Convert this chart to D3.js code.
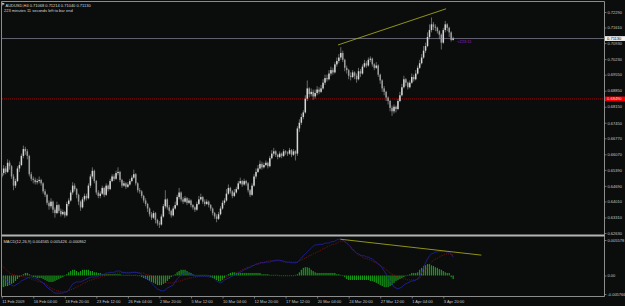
<!DOCTYPE html>
<html>
<head>
<meta charset="utf-8">
<script src="https://cdn.jsdelivr.net/npm/d3@7"></script>
<style>
  html, body { margin: 0; padding: 0; background: #0b0d0d; }
  svg { display: block; }
  text { font-family: "Liberation Sans", Arial, sans-serif; font-size: 4px; fill: #d8d8d8; }
</style>
</head>
<body>
<svg id="chart" width="625" height="306"></svg>
<script>
// AUDUSD H4 bars (bar 0 = 11 Feb 2009)
var firstOpen = 0.6510;
var closes = [
  0.6525,0.6545,0.6530,0.6570,0.6555,0.6510,0.6470,0.6490,0.6545,0.6560,
  0.6600,0.6630,0.6620,0.6600,0.6520,0.6500,0.6495,0.6485,0.6490,0.6495,
  0.6480,0.6445,0.6430,0.6395,0.6380,0.6400,0.6365,0.6350,0.6385,0.6360,
  0.6345,0.6355,0.6340,0.6390,0.6405,0.6440,0.6470,0.6455,0.6430,0.6400,
  0.6375,0.6410,0.6425,0.6415,0.6470,0.6510,0.6535,0.6490,0.6440,0.6425,
  0.6435,0.6460,0.6430,0.6470,0.6455,0.6490,0.6510,0.6500,0.6525,0.6530,
  0.6495,0.6470,0.6480,0.6465,0.6475,0.6490,0.6505,0.6520,0.6480,0.6450,
  0.6445,0.6425,0.6405,0.6390,0.6370,0.6345,0.6330,0.6350,0.6320,0.6305,
  0.6300,0.6335,0.6380,0.6410,0.6375,0.6360,0.6340,0.6370,0.6385,0.6420,
  0.6440,0.6410,0.6400,0.6415,0.6395,0.6405,0.6385,0.6375,0.6365,0.6390,
  0.6410,0.6420,0.6400,0.6390,0.6400,0.6385,0.6370,0.6350,0.6335,0.6325,
  0.6345,0.6370,0.6395,0.6405,0.6435,0.6460,0.6445,0.6425,0.6440,0.6455,
  0.6480,0.6490,0.6475,0.6490,0.6480,0.6450,0.6430,0.6470,0.6510,0.6530,
  0.6545,0.6565,0.6550,0.6560,0.6570,0.6555,0.6590,0.6610,0.6620,0.6605,
  0.6595,0.6610,0.6600,0.6620,0.6615,0.6610,0.6625,0.6605,0.6620,0.6610,
  0.6720,0.6745,0.6770,0.6790,0.6850,0.6895,0.6870,0.6880,0.6860,0.6875,
  0.6890,0.6880,0.6895,0.6920,0.6940,0.6935,0.6960,0.6975,0.6965,0.7000,
  0.7015,0.7030,0.7050,0.7020,0.6985,0.6975,0.6950,0.6945,0.6965,0.6950,
  0.6935,0.6970,0.6960,0.6990,0.7005,0.6995,0.7020,0.7025,0.7000,0.6985,
  0.6995,0.6955,0.6930,0.6895,0.6880,0.6855,0.6840,0.6810,0.6795,0.6815,
  0.6805,0.6840,0.6865,0.6900,0.6935,0.6920,0.6900,0.6920,0.6945,0.6935,
  0.6960,0.6985,0.7005,0.7030,0.7060,0.7080,0.7120,0.7150,0.7175,0.7165,
  0.7160,0.7145,0.7130,0.7095,0.7150,0.7175,0.7160,0.7140,0.7107,0.7113
];
var highs = [
  0.6545,0.6560,0.6555,0.6585,0.6580,0.6560,0.6520,0.6500,0.6555,0.6575,
  0.6610,0.6645,0.6640,0.6630,0.6605,0.6530,0.6510,0.6505,0.6500,0.6510,
  0.6500,0.6485,0.6455,0.6435,0.6405,0.6415,0.6405,0.6375,0.6400,0.6390,
  0.6370,0.6365,0.6360,0.6400,0.6415,0.6450,0.6485,0.6480,0.6460,0.6435,
  0.6405,0.6420,0.6435,0.6435,0.6480,0.6520,0.6550,0.6540,0.6495,0.6450,
  0.6445,0.6470,0.6465,0.6480,0.6475,0.6500,0.6520,0.6520,0.6535,0.6550,
  0.6535,0.6500,0.6490,0.6485,0.6485,0.6500,0.6515,0.6540,0.6525,0.6485,
  0.6460,0.6450,0.6430,0.6415,0.6395,0.6375,0.6355,0.6360,0.6355,0.6325,
  0.6315,0.6345,0.6390,0.6450,0.6415,0.6385,0.6365,0.6380,0.6400,0.6430,
  0.6460,0.6445,0.6420,0.6425,0.6420,0.6415,0.6410,0.6390,0.6380,0.6400,
  0.6425,0.6435,0.6425,0.6410,0.6410,0.6405,0.6390,0.6375,0.6355,0.6345,
  0.6355,0.6380,0.6405,0.6415,0.6455,0.6475,0.6465,0.6450,0.6455,0.6465,
  0.6490,0.6505,0.6495,0.6500,0.6495,0.6485,0.6455,0.6480,0.6520,0.6545,
  0.6560,0.6580,0.6575,0.6570,0.6580,0.6575,0.6600,0.6625,0.6635,0.6625,
  0.6610,0.6620,0.6615,0.6630,0.6625,0.6620,0.6635,0.6630,0.6630,0.6625,
  0.6730,0.6760,0.6785,0.6800,0.6865,0.6930,0.6900,0.6895,0.6890,0.6890,
  0.6905,0.6900,0.6910,0.6935,0.6955,0.6955,0.6975,0.6990,0.6985,0.7010,
  0.7030,0.7045,0.7075,0.7060,0.7025,0.6995,0.6980,0.6965,0.6975,0.6970,
  0.6960,0.6985,0.6980,0.7000,0.7020,0.7015,0.7030,0.7035,0.7030,0.7005,
  0.7010,0.7000,0.6960,0.6935,0.6905,0.6885,0.6860,0.6845,0.6820,0.6825,
  0.6820,0.6850,0.6880,0.6915,0.6950,0.6940,0.6925,0.6930,0.6960,0.6955,
  0.6975,0.6995,0.7020,0.7045,0.7080,0.7095,0.7140,0.7175,0.7205,0.7185,
  0.7175,0.7165,0.7150,0.7135,0.7160,0.7190,0.7180,0.7165,0.7145,0.7121
];
var lows = [
  0.6500,0.6515,0.6520,0.6525,0.6540,0.6500,0.6450,0.6460,0.6485,0.6530,
  0.6555,0.6590,0.6605,0.6585,0.6510,0.6490,0.6480,0.6475,0.6475,0.6480,
  0.6470,0.6435,0.6420,0.6385,0.6365,0.6370,0.6350,0.6330,0.6345,0.6350,
  0.6335,0.6340,0.6330,0.6335,0.6380,0.6400,0.6430,0.6445,0.6415,0.6385,
  0.6360,0.6370,0.6400,0.6405,0.6410,0.6460,0.6500,0.6480,0.6430,0.6415,
  0.6415,0.6430,0.6420,0.6425,0.6445,0.6450,0.6485,0.6490,0.6495,0.6515,
  0.6485,0.6460,0.6465,0.6455,0.6460,0.6470,0.6485,0.6500,0.6470,0.6440,
  0.6435,0.6415,0.6395,0.6380,0.6355,0.6335,0.6320,0.6325,0.6305,0.6295,
  0.6285,0.6295,0.6330,0.6370,0.6365,0.6345,0.6330,0.6335,0.6365,0.6380,
  0.6410,0.6400,0.6390,0.6395,0.6385,0.6390,0.6375,0.6365,0.6355,0.6360,
  0.6385,0.6405,0.6390,0.6380,0.6385,0.6375,0.6360,0.6340,0.6325,0.6310,
  0.6320,0.6340,0.6365,0.6385,0.6400,0.6430,0.6435,0.6415,0.6420,0.6435,
  0.6450,0.6475,0.6465,0.6470,0.6470,0.6440,0.6420,0.6425,0.6465,0.6500,
  0.6525,0.6540,0.6540,0.6545,0.6555,0.6545,0.6550,0.6585,0.6600,0.6595,
  0.6585,0.6590,0.6590,0.6595,0.6605,0.6600,0.6605,0.6595,0.6600,0.6580,
  0.6600,0.6705,0.6735,0.6760,0.6785,0.6840,0.6855,0.6860,0.6845,0.6850,
  0.6865,0.6870,0.6875,0.6890,0.6910,0.6925,0.6930,0.6950,0.6955,0.6960,
  0.6990,0.7005,0.7020,0.7010,0.6970,0.6960,0.6935,0.6930,0.6940,0.6935,
  0.6920,0.6930,0.6945,0.6955,0.6985,0.6985,0.6990,0.7010,0.6990,0.6975,
  0.6980,0.6945,0.6915,0.6880,0.6865,0.6840,0.6825,0.6795,0.6775,0.6785,
  0.6790,0.6800,0.6835,0.6860,0.6895,0.6905,0.6890,0.6895,0.6915,0.6925,
  0.6930,0.6955,0.6980,0.7000,0.7025,0.7050,0.7075,0.7110,0.7140,0.7150,
  0.7145,0.7135,0.7110,0.7065,0.7090,0.7140,0.7145,0.7120,0.7100,0.7104
];

// MACD(12,26,9) window
var macdMain = [
  -.0005,-.0011,-.0014,-.0020,-.0026,-.0030,-.0033,-.0030,-.0026,-.0023,
  -.0017,-.0014,-.0011,-.0008,-.0005,-.0005,-.0008,-.0008,-.0011,-.0014,
  -.0020,-.0023,-.0030,-.0036,-.0042,-.0045,-.0051,-.0055,-.0055,-.0055,
  -.0055,-.0055,-.0051,-.0051,-.0045,-.0036,-.0026,-.0023,-.0020,-.0020,
  -.0020,-.0017,-.0014,-.0011,-.0008,-.0005,-.0005,-.0005,-.0002,-.0002,
  .0001,.0002,.0002,.0004,.0004,.0005,.0005,.0005,.0007,.0007,
  .0007,.0005,.0005,.0004,.0004,.0004,.0005,.0005,.0005,.0004,
  .0004,.0001,-.0002,-.0008,-.0011,-.0017,-.0023,-.0030,-.0036,-.0042,
  -.0045,-.0048,-.0048,-.0045,-.0039,-.0036,-.0033,-.0030,-.0020,-.0011,
  -.0005,.0001,.0002,.0004,.0004,.0002,.0001,.0001,-.0002,-.0002,
  -.0002,-.0002,-.0002,-.0002,-.0002,-.0002,-.0002,-.0005,-.0011,-.0017,
  -.0020,-.0023,-.0020,-.0014,-.0011,-.0008,-.0005,-.0002,.0001,.0002,
  .0004,.0005,.0007,.0009,.0010,.0012,.0013,.0015,.0016,.0018,
  .0018,.0020,.0020,.0020,.0021,.0021,.0021,.0023,.0023,.0024,
  .0024,.0024,.0023,.0023,.0021,.0021,.0021,.0020,.0020,.0020,
  .0021,.0024,.0027,.0031,.0034,.0037,.0040,.0043,.0046,.0048,
  .0048,.0049,.0049,.0049,.0051,.0051,.0051,.0053,.0053,.0054,
  .0056,.0057,.0057,.0056,.0053,.0051,.0048,.0045,.0040,.0038,
  .0035,.0034,.0032,.0031,.0031,.0029,.0029,.0027,.0026,.0023,
  .0021,.0018,.0016,.0012,.0007,.0002,-.0005,-.0017,-.0026,-.0036,
  -.0039,-.0042,-.0039,-.0036,-.0030,-.0026,-.0023,-.0020,-.0017,-.0017,
  -.0014,-.0011,-.0002,.0005,.0013,.0020,.0026,.0031,.0034,.0035,
  .0037,.0037,.0038,.0038,.0038,.0038,.0037,.0037,.0034,.0029
];
var macdSignal = [
  .0016,.0013,.0010,.0007,.0004,.0002,.0001,.0001,-.0002,-.0002,
  -.0002,-.0005,-.0005,-.0005,-.0008,-.0011,-.0014,-.0014,-.0017,-.0020,
  -.0020,-.0023,-.0026,-.0030,-.0036,-.0039,-.0042,-.0045,-.0048,-.0048,
  -.0051,-.0051,-.0051,-.0051,-.0048,-.0045,-.0042,-.0039,-.0036,-.0033,
  -.0030,-.0026,-.0023,-.0020,-.0017,-.0014,-.0014,-.0011,-.0008,-.0008,
  -.0005,-.0002,-.0002,.0001,.0001,.0002,.0002,.0002,.0004,.0004,
  .0004,.0004,.0004,.0005,.0005,.0005,.0005,.0005,.0005,.0005,
  .0004,.0004,.0004,.0002,.0001,.0001,-.0002,-.0005,-.0008,-.0011,
  -.0014,-.0017,-.0020,-.0020,-.0023,-.0023,-.0023,-.0023,-.0020,-.0020,
  -.0017,-.0017,-.0014,-.0011,-.0011,-.0008,-.0008,-.0005,-.0005,-.0005,
  -.0002,-.0002,-.0002,-.0002,-.0002,-.0005,-.0005,-.0005,-.0008,-.0008,
  -.0011,-.0011,-.0011,-.0008,-.0005,-.0002,.0001,.0002,.0004,.0005,
  .0005,.0007,.0009,.0010,.0012,.0013,.0013,.0015,.0016,.0018,
  .0018,.0020,.0020,.0021,.0021,.0023,.0023,.0023,.0023,.0023,
  .0023,.0023,.0023,.0021,.0021,.0021,.0021,.0021,.0021,.0021,
  .0021,.0023,.0024,.0026,.0027,.0029,.0031,.0032,.0034,.0035,
  .0037,.0038,.0040,.0042,.0043,.0045,.0046,.0048,.0049,.0049,
  .0051,.0053,.0054,.0054,.0053,.0051,.0048,.0045,.0042,.0038,
  .0035,.0032,.0031,.0029,.0027,.0026,.0026,.0024,.0023,.0021,
  .0020,.0018,.0016,.0013,.0012,.0009,.0007,.0004,.0002,.0001,
  -.0002,-.0005,-.0008,-.0008,-.0011,-.0011,-.0014,-.0014,-.0014,-.0014,
  -.0014,-.0011,-.0008,-.0002,.0004,.0009,.0013,.0018,.0021,.0024,
  .0026,.0027,.0029,.0031,.0032,.0034,.0034,.0034,.0034,.0032
];
var macdHist = [
  -.0036,-.0036,-.0033,-.0033,-.0030,-.0026,-.0023,-.0017,-.0011,-.0005,
  -.0002,.0002,.0004,.0004,.0002,-.0002,-.0005,-.0005,-.0008,-.0008,
  -.0008,-.0011,-.0014,-.0017,-.0020,-.0020,-.0020,-.0017,-.0014,-.0011,
  -.0008,-.0005,-.0002,.0002,.0005,.0007,.0009,.0009,.0007,.0005,
  .0007,.0009,.0009,.0009,.0009,.0007,.0007,.0005,.0005,.0004,
  .0004,.0002,.0002,.0002,.0002,.0002,.0002,.0002,.0002,.0002,
  .0002,.0001,.0001,.0001,.0001,.0001,.0001,.0001,.0001,-.0002,
  -.0002,-.0005,-.0008,-.0011,-.0014,-.0017,-.0020,-.0023,-.0026,-.0030,
  -.0030,-.0030,-.0026,-.0023,-.0017,-.0011,-.0005,-.0002,.0002,.0005,
  .0007,.0009,.0009,.0009,.0007,.0005,.0004,.0002,.0001,.0001,
  .0001,.0001,.0001,.0001,.0001,-.0002,-.0005,-.0008,-.0011,-.0014,
  -.0017,-.0017,-.0014,-.0008,-.0002,.0002,.0004,.0005,.0005,.0004,
  .0004,.0004,.0004,.0004,.0004,.0004,.0004,.0004,.0004,.0004,
  .0004,.0004,.0002,.0002,.0002,.0002,.0001,.0001,.0001,.0001,
  .0001,-.0002,-.0002,-.0002,-.0002,-.0002,-.0002,-.0002,-.0002,.0001,
  .0002,.0005,.0009,.0012,.0013,.0013,.0012,.0009,.0007,.0005,
  .0004,.0004,.0004,.0004,.0004,.0004,.0004,.0004,.0004,.0004,
  .0002,.0002,.0001,-.0002,-.0005,-.0011,-.0014,-.0014,-.0014,-.0014,
  -.0014,-.0014,-.0014,-.0014,-.0014,-.0014,-.0014,-.0017,-.0017,-.0020,
  -.0023,-.0026,-.0030,-.0033,-.0036,-.0036,-.0036,-.0033,-.0030,-.0023,
  -.0017,-.0014,-.0011,-.0008,-.0005,-.0002,.0001,.0002,.0004,.0004,
  .0004,.0005,.0009,.0012,.0015,.0016,.0018,.0018,.0016,.0015,
  .0013,.0012,.0010,.0009,.0007,.0005,.0004,.0004,-.0005,-.0011
];

var priceTicks = [0.7229, 0.7161, 0.7093, 0.7023, 0.6955, 0.6885, 0.6815, 0.6745,
                  0.6677, 0.6607, 0.6539, 0.6469, 0.6401, 0.6331, 0.6263];
var macdTicks = [0.005578, 0, -0.005766];
var macdTickLabels = ["0.005578", "0.00", "-0.005766"];
var timeTickBars = [0, 16, 32, 48, 64, 80, 96, 112, 128, 144, 160, 176, 192, 208, 224];
var timeTickLabels = ["11 Feb 2009", "16 Feb 04:00", "18 Feb 20:00", "23 Feb 12:00", "26 Feb 04:00",
                      "2 Mar 20:00", "5 Mar 12:00", "10 Mar 04:00", "12 Mar 20:00", "17 Mar 12:00",
                      "20 Mar 04:00", "24 Mar 20:00", "27 Mar 12:00", "1 Apr 04:00", "3 Apr 20:00"];

var levelPrice = 0.6849;
var bidPrice = 0.7113;
var priceTrendBars = [170.6, 225.4], priceTrendValues = [0.7085, 0.7243];
var macdTrendBars = [171.8, 243.3], macdTrendValues = [0.0057, 0.0032];

var svg = d3.select("#chart");
var W = 625, H = 306, axisX = 604.5;

svg.append("rect").attr("width", W).attr("height", H).attr("fill", "#0b0d0d");

var x = d3.scaleLinear().domain([0, 224]).range([1.7, 443.3]);
var y = d3.scaleLinear().domain([0.6263, 0.7229]).range([233, 12]);
var ym = d3.scaleLinear().domain([-0.005766, 0, 0.005578]).range([294, 275.5, 240]);

var bars = closes.map(function(c, i) {
  return { i: i, o: i ? closes[i - 1] : firstOpen, h: highs[i], l: lows[i], c: c };
});

// clip areas for the two windows
var defs = svg.append("defs");
defs.append("clipPath").attr("id", "clipMain").append("rect")
  .attr("x", 2).attr("y", 2).attr("width", axisX - 2).attr("height", 232);
defs.append("clipPath").attr("id", "clipMacd").append("rect")
  .attr("x", 2).attr("y", 237).attr("width", axisX - 2).attr("height", 59);

var main = svg.append("g").attr("clip-path", "url(#clipMain)");

// bid line + level line
main.append("line").attr("x1", 2).attr("x2", axisX)
  .attr("y1", y(bidPrice)).attr("y2", y(bidPrice))
  .attr("stroke", "#8a8a9c").attr("stroke-width", 0.7);
main.append("line").attr("x1", 2).attr("x2", axisX)
  .attr("y1", y(levelPrice)).attr("y2", y(levelPrice))
  .attr("stroke", "#c80000").attr("stroke-width", 0.8).attr("stroke-dasharray", "1,1");

// candles
var candle = main.append("g").selectAll("g").data(bars).enter().append("g");
candle.append("line")
  .attr("x1", function(d) { return x(d.i); }).attr("x2", function(d) { return x(d.i); })
  .attr("y1", function(d) { return y(d.h); }).attr("y2", function(d) { return y(d.l); })
  .attr("stroke", "#8e8e8e").attr("stroke-width", 0.7);
candle.append("rect")
  .attr("x", function(d) { return x(d.i) - 0.75; })
  .attr("width", 1.5)
  .attr("y", function(d) { return y(Math.max(d.o, d.c)); })
  .attr("height", function(d) { return Math.max(0.6, Math.abs(y(d.o) - y(d.c))); })
  .attr("fill", function(d) { return d.c >= d.o ? "#d6d6d6" : "#9c9c9c"; });

// trendline on price
main.append("line")
  .attr("x1", x(priceTrendBars[0])).attr("y1", y(priceTrendValues[0]))
  .attr("x2", x(priceTrendBars[1])).attr("y2", y(priceTrendValues[1]))
  .attr("stroke", "#b4b41c").attr("stroke-width", 0.8);

// time left label next to last bar
main.append("text").attr("x", x(closes.length - 1) + 4).attr("y", y(bidPrice) + 4.5)
  .style("fill", "#8e22d0").text("<223:11");

// MACD window
var macd = svg.append("g").attr("clip-path", "url(#clipMacd)");
macd.append("g").selectAll("rect").data(macdHist).enter().append("rect")
  .attr("x", function(d, i) { return x(i) - 0.6; })
  .attr("width", 1.2)
  .attr("y", function(d) { return Math.min(ym(d), ym(0)); })
  .attr("height", function(d) { return Math.abs(ym(d) - ym(0)); })
  .attr("fill", "#169a16");

var mline = d3.line().x(function(d, i) { return x(i); }).y(function(d) { return ym(d); });
macd.append("path").datum(macdSignal).attr("d", mline)
  .attr("fill", "none").attr("stroke", "#b01010").attr("stroke-width", 0.8)
  .attr("stroke-dasharray", "0.8,1.2");
macd.append("path").datum(macdMain).attr("d", mline)
  .attr("fill", "none").attr("stroke", "#2222a8").attr("stroke-width", 0.8);
macd.append("line")
  .attr("x1", x(macdTrendBars[0])).attr("y1", ym(macdTrendValues[0]))
  .attr("x2", x(macdTrendBars[1])).attr("y2", ym(macdTrendValues[1]))
  .attr("stroke", "#b4b41c").attr("stroke-width", 0.8);

// frames
var frame = svg.append("g").attr("fill", "none");
frame.append("path").attr("d", "M1.5,296.5 V1.5 H" + axisX + " V296.5 H1.5")
  .attr("stroke", "#8c8c8c").attr("stroke-width", 1);
frame.append("line").attr("x1", 1.5).attr("x2", axisX).attr("y1", 235.5).attr("y2", 235.5)
  .attr("stroke", "#b4b4b4").attr("stroke-width", 2);

// axes
var yAxis = svg.append("g").attr("transform", "translate(" + axisX + ",0)")
  .call(d3.axisRight(y).tickValues(priceTicks).tickSize(2).tickPadding(1).tickFormat(d3.format(".5f")));
var mAxis = svg.append("g").attr("transform", "translate(" + axisX + ",0)")
  .call(d3.axisRight(ym).tickValues(macdTicks).tickSize(2).tickPadding(1)
    .tickFormat(function(d, i) { return macdTickLabels[i]; }));
var xAxis = svg.append("g").attr("transform", "translate(0,296.5)")
  .call(d3.axisBottom(x).tickValues(timeTickBars).tickSize(2)
    .tickFormat(function(d, i) { return timeTickLabels[i]; }));
xAxis.selectAll("text").attr("y", 3.8).attr("dx", 0).style("text-anchor", "start");

[yAxis, mAxis, xAxis].forEach(function(a) {
  a.select(".domain").remove();
  a.selectAll("line").attr("stroke", "#9a9a9a").attr("stroke-width", 0.7);
  a.selectAll("text").attr("font-size", null).attr("font-family", null).style("fill", "#c8c8c8");
});

// price markers on the axis
var marks = [
  { v: levelPrice, bg: "#ee0000", fg: "#ffd8d8" },
  { v: bidPrice, bg: "#f2f2f2", fg: "#000000" }
];
var mk = svg.append("g").selectAll("g").data(marks).enter().append("g")
  .attr("transform", function(d) { return "translate(" + axisX + "," + y(d.v) + ")"; });
mk.append("rect").attr("x", 0.5).attr("y", -2.4).attr("width", 20).attr("height", 4.8)
  .attr("fill", function(d) { return d.bg; });
mk.append("text").attr("x", 2.6).attr("y", 1.4)
  .style("fill", function(d) { return d.fg; }).text(function(d) { return d3.format(".5f")(d.v); });

// header texts
svg.append("path").attr("d", "M2,2.5 L5,4 L3.2,4.4 L2.8,6 Z").attr("fill", "#e8e8e8");
svg.append("text").attr("x", 5.5).attr("y", 6.6)
  .text("AUDUSD,H4  0.71068 0.71214 0.71040 0.71130");
svg.append("text").attr("x", 4).attr("y", 12.3)
  .text("223 minutes 11 seconds left to bar end");
svg.append("text").attr("x", 3.5).attr("y", 242.6)
  .text("MACD(12,26,9) 0.004565 0.005426 -0.000862");
</script>
</body>
</html>
